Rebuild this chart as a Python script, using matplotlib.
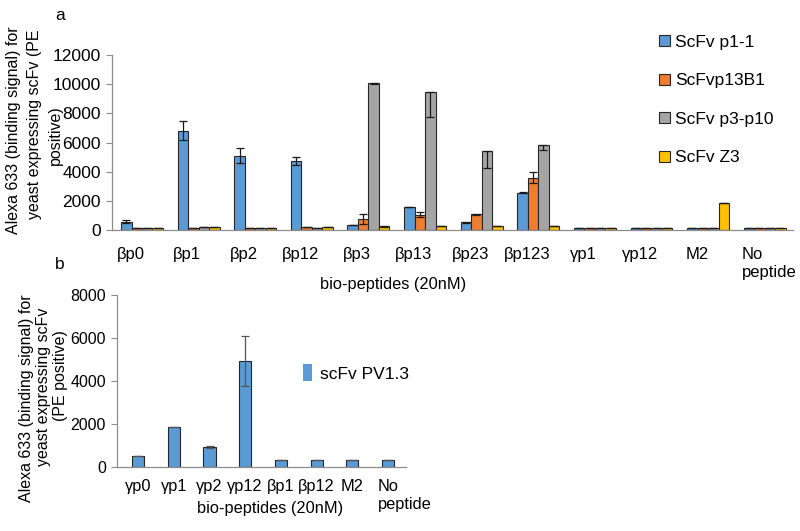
import matplotlib
matplotlib.use("Agg")
import matplotlib.pyplot as plt
import numpy as np
from matplotlib.patches import Patch

plt.rcParams['font.family'] = ['Liberation Sans', 'DejaVu Sans']

# ---- Panel a data ----
cats_a = ["βp0", "βp1", "βp2", "βp12", "βp3", "βp13", "βp23", "βp123",
          "γp1", "γp12", "M2", "No\npeptide"]
series_a = ["ScFv p1-1", "ScFvp13B1", "ScFv p3-p10", "ScFv Z3"]
blue = [570, 6800, 5100, 4750, 340, 1590, 520, 2560, 160, 120, 120, 120]
blue_err = [120, 650, 520, 280, 0, 0, 50, 50, 0, 0, 0, 0]
orange = [160, 150, 160, 240, 740, 1060, 1070, 3600, 120, 110, 110, 110]
orange_err = [0, 0, 0, 0, 360, 150, 50, 400, 0, 0, 0, 0]
gray = [130, 210, 140, 140, 10050, 9480, 5440, 5810, 120, 110, 110, 110]
gray_err_low = [0, 0, 0, 0, 50, 1700, 1170, 320, 0, 0, 0, 0]
yellow = [140, 190, 170, 180, 260, 300, 270, 280, 150, 110, 1830, 150]
yellow_err = [0, 0, 0, 0, 40, 0, 0, 0, 0, 0, 0, 0]
yticks_a = [0, 2000, 4000, 6000, 8000, 10000, 12000]
ylabel_a = ["Alexa 633 (binding signal) for", "yeast expressing scFv (PE", "positive)"]

# ---- Panel b data ----
cats_b = ["γp0", "γp1", "γp2", "γp12", "βp1", "βp12", "M2", "No\npeptide"]
series_b = "scFv PV1.3"
pv = [500, 1840, 930, 4920, 310, 290, 300, 290]
pv_err = [0, 0, 50, 1150, 0, 0, 0, 0]
yticks_b = [0, 2000, 4000, 6000, 8000]
ylabel_b = ["Alexa 633 (binding signal) for", "yeast expressing scFv", "(PE positive)"]

colors = ["#5B9BD5", "#ED7D31", "#A5A5A5", "#FFC000"]
edge = "#262626"
axis_col = "#8c8c8c"

fig = plt.figure(figsize=(8, 5.31), dpi=100)

# ---------------- Panel a ----------------
axa = fig.add_axes([112/800, 1-230/531, (793-112)/800, 175/531])
x = np.arange(len(cats_a))
w = 0.185
vals = [blue, orange, gray, yellow]
errs = [blue_err, orange_err, [gray_err_low, [0]*len(gray)], yellow_err]
for i, (v, e, c, lab) in enumerate(zip(vals, errs, colors, series_a)):
    axa.bar(x + (i - 1.5) * w, v, width=w, color=c, edgecolor=edge,
            linewidth=0.8, label=lab, zorder=2)
    e_arr = np.array(e, dtype=float)
    axa.errorbar(x + (i - 1.5) * w, v, yerr=e_arr, fmt='none', ecolor='#1a1a1a',
                 elinewidth=0.9, capsize=3, capthick=0.9, zorder=3)
axa.set_xlim(-0.53, len(cats_a) - 0.5)
axa.set_ylim(0, 12000)
axa.set_yticks(yticks_a)
axa.set_yticklabels([str(t) for t in yticks_a], fontsize=12.5)
tickpos = [xi - 0.2 for xi in x[:-1]] + [x[-1] - 0.4]
axa.set_xticks(tickpos)
axa.set_xticklabels(cats_a, fontsize=12)
tl = axa.get_xticklabels()
tl[-1].set_ha('left')
tl[-1].set_multialignment('left')
axa.tick_params(axis='x', length=0, pad=12.5)
axa.tick_params(axis='y', length=4, color=axis_col, width=0.8, pad=4)
for s in ['top', 'right']:
    axa.spines[s].set_visible(False)
for s in ['left', 'bottom']:
    axa.spines[s].set_color(axis_col)
    axa.spines[s].set_linewidth(0.9)
axa.legend(loc='upper left', bbox_to_anchor=(652/800, 1-28/531),
           bbox_transform=fig.transFigure, frameon=False, fontsize=12.5,
           handlelength=0.62, handleheight=0.62, handletextpad=0.3,
           labelspacing=1.35, borderaxespad=0)
for line, lx, ly in zip(ylabel_a, [14, 35, 55], [130, 124, 135]):
    fig.text(lx/800, 1-ly/531, line, rotation=90, ha='center', va='center',
             fontsize=11.5)
fig.text(393/800, 1-285/531, "bio-peptides (20nM)", ha='center', va='center',
         fontsize=11.8)
fig.text(60/800, 1-15/531, "a", ha='center', va='center', fontsize=12.5)

# ---------------- Panel b ----------------
axb = fig.add_axes([117/800, 1-466.7/531, (405.6-117)/800, 171.7/531])
xb = np.arange(len(cats_b))
axb.bar(xb, pv, width=0.34, color=colors[0], edgecolor=edge, linewidth=0.8,
        zorder=2)
axb.errorbar(xb, pv, yerr=pv_err, fmt='none', ecolor='#555555', elinewidth=0.9,
             capsize=3, capthick=0.9, zorder=3)
axb.set_xlim(-0.59, len(cats_b) - 0.51)
axb.set_ylim(0, 8000)
axb.set_yticks(yticks_b)
axb.set_yticklabels([str(t) for t in yticks_b], fontsize=11.5)
tickpos_b = list(xb[:-1]) + [xb[-1] - 0.28]
axb.set_xticks(tickpos_b)
axb.set_xticklabels(cats_b, fontsize=11.8)
tlb = axb.get_xticklabels()
tlb[-1].set_ha('left')
tlb[-1].set_multialignment('left')
axb.tick_params(axis='x', length=0, pad=9)
axb.tick_params(axis='y', length=4, color=axis_col, width=0.8, pad=4)
for s in ['top', 'right']:
    axb.spines[s].set_visible(False)
for s in ['left', 'bottom']:
    axb.spines[s].set_color(axis_col)
    axb.spines[s].set_linewidth(0.9)
axb.legend(handles=[Patch(facecolor=colors[0], edgecolor='none', label=series_b)],
           loc='center left', bbox_to_anchor=(296/800, 1-373/531),
           bbox_transform=fig.transFigure, frameon=False, fontsize=12.5,
           handlelength=0.55, handleheight=1.1, handletextpad=0.45,
           borderaxespad=0)
for line, lx, ly in zip(ylabel_b, [27, 44, 60], [398, 387, 376]):
    fig.text(lx/800, 1-ly/531, line, rotation=90, ha='center', va='center',
             fontsize=11.5)
fig.text(270/800, 1-508/531, "bio-peptides (20nM)", ha='center', va='center',
         fontsize=11.8)
fig.text(60/800, 1-264/531, "b", ha='center', va='center', fontsize=12.5)

fig.savefig("out.png", dpi=100)
